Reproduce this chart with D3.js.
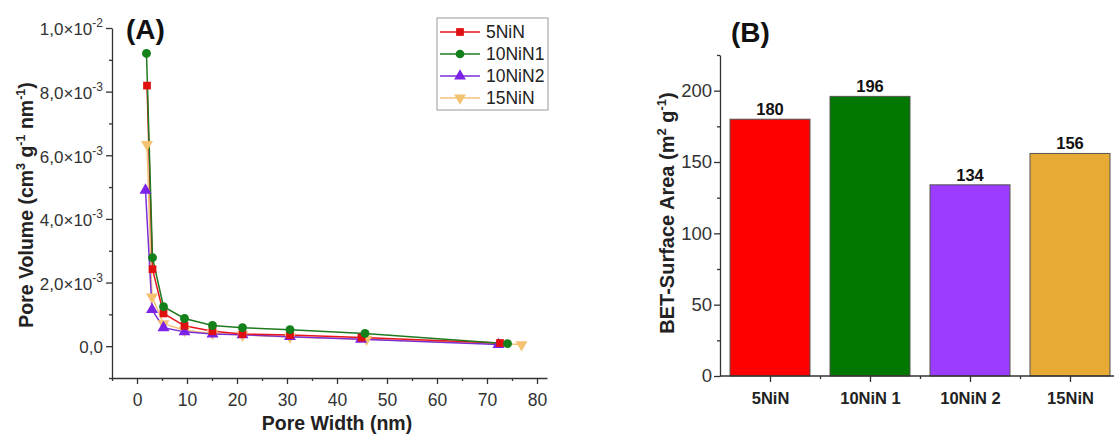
<!DOCTYPE html>
<html>
<head>
<meta charset="utf-8">
<script src="https://cdn.jsdelivr.net/npm/d3@7"></script>
<style>
  body { margin: 0; background: #fff; }
  text { font-family: "Liberation Sans", Arial, sans-serif; }
</style>
</head>
<body>
<div id="chart"></div>
<script>
// Panel A data: pore size distribution
var seriesNames = ["5NiN", "10NiN1", "10NiN2", "15NiN"];
var x5NiN    = [2.0, 3.1, 5.3, 9.5, 15.1, 21.1, 30.6, 44.9, 72.6];
var y5NiN    = [8.19e-3, 2.42e-3, 1.03e-3, 0.64e-3, 0.47e-3, 0.38e-3, 0.35e-3, 0.27e-3, 0.10e-3];
var x10NiN1  = [1.9, 3.1, 5.3, 9.5, 15.1, 21.1, 30.6, 45.6, 74.1];
var y10NiN1  = [9.20e-3, 2.78e-3, 1.24e-3, 0.87e-3, 0.65e-3, 0.58e-3, 0.52e-3, 0.40e-3, 0.08e-3];
var x10NiN2  = [1.7, 3.0, 5.3, 9.5, 15.1, 21.1, 30.6, 44.8, 72.3];
var y10NiN2  = [4.90e-3, 1.15e-3, 0.58e-3, 0.45e-3, 0.38e-3, 0.36e-3, 0.30e-3, 0.22e-3, 0.05e-3];
var x15NiN   = [2.0, 3.0, 5.3, 9.5, 15.1, 21.1, 30.6, 45.9, 76.9];
var y15NiN   = [6.34e-3, 1.55e-3, 0.71e-3, 0.50e-3, 0.40e-3, 0.35e-3, 0.29e-3, 0.22e-3, 0.05e-3];
var xTicksA  = [0, 10, 20, 30, 40, 50, 60, 70, 80];
var yTicksA  = [0, 2e-3, 4e-3, 6e-3, 8e-3, 1e-2];
var yTickLabelsA = [["0,0", ""], ["2,0×10", "-3"], ["4,0×10", "-3"], ["6,0×10", "-3"], ["8,0×10", "-3"], ["1,0×10", "-2"]];

// Panel B data: BET surface area
var samples  = ["5NiN", "10NiN 1", "10NiN 2", "15NiN"];
var betArea  = [180, 196, 134, 156];
var yTicksB  = [0, 50, 100, 150, 200];

var lineColors   = ["#e8141b", "#1f7a1f", "#7a2fd8", "#f2c27a"];
var markerColors = ["#e01010", "#13801a", "#7b22e6", "#f5c271"];
var symbols      = [d3.symbolSquare, d3.symbolCircle, d3.symbolTriangle, d3.symbolTriangle];
var barColors    = ["#ff0000", "#007800", "#9b3cff", "#e6aa35"];

var svg = d3.select("#chart").append("svg")
  .attr("width", 1114)
  .attr("height", 434);

var axisColor = "#333";

// ---------- Panel A ----------
var xA = d3.scaleLinear().domain([-5, 82]).range([112, 547]);
var yA = d3.scaleLinear().domain([-1e-3, 1e-2]).range([378, 28]);

var gA = svg.append("g");

// minor ticks
gA.append("g")
  .attr("transform", "translate(0,378)")
  .call(d3.axisBottom(xA).tickValues(d3.range(-5, 81, 5).filter(d => d % 10 !== 0)).tickSize(3).tickFormat(""))
  .call(g => g.select(".domain").remove());
gA.append("g")
  .attr("transform", "translate(112,0)")
  .call(d3.axisLeft(yA).tickValues(d3.range(-1e-3, 1.01e-2, 1e-3).filter((d, i) => i % 2 === 0)).tickSize(3).tickFormat(""))
  .call(g => g.select(".domain").remove());

var xAxisA = gA.append("g")
  .attr("transform", "translate(0,378)")
  .call(d3.axisBottom(xA).tickValues(xTicksA).tickSize(6).tickSizeOuter(0));
xAxisA.selectAll("text").attr("font-size", 17.5).attr("dy", "1.1em").attr("fill", "#333");

var yAxisA = gA.append("g")
  .attr("transform", "translate(112,0)")
  .call(d3.axisLeft(yA).tickValues(yTicksA).tickSize(6).tickSizeOuter(0).tickFormat(""));
yAxisA.selectAll(".tick").each(function (d, i) {
  var t = d3.select(this).append("text")
    .attr("x", -9).attr("dy", "0.4em")
    .attr("text-anchor", "end")
    .attr("font-size", 17)
    .attr("fill", "#333");
  t.append("tspan").text(yTickLabelsA[i][0]);
  if (yTickLabelsA[i][1]) {
    t.append("tspan").attr("dy", -8).attr("font-size", 12).text(yTickLabelsA[i][1]);
  }
});

svg.selectAll(".domain, .tick line").attr("stroke", axisColor).attr("stroke-width", 1.3);

var dataA = [
  x5NiN.map((x, i) => [x, y5NiN[i]]),
  x10NiN1.map((x, i) => [x, y10NiN1[i]]),
  x10NiN2.map((x, i) => [x, y10NiN2[i]]),
  x15NiN.map((x, i) => [x, y15NiN[i]])
];

var line = d3.line().x(d => xA(d[0])).y(d => yA(d[1]));

// draw in order so green sits on top like the original
var drawOrder = [3, 2, 0, 1];
drawOrder.forEach(function (s) {
  gA.append("path")
    .datum(dataA[s])
    .attr("d", line)
    .attr("fill", "none")
    .attr("stroke", lineColors[s])
    .attr("stroke-width", 1.5);
});
drawOrder.forEach(function (s) {
  gA.selectAll(null)
    .data(dataA[s])
    .enter()
    .append("path")
    .attr("d", d3.symbol().type(symbols[s]).size(s === 0 ? 60 : 62))
    .attr("transform", d => `translate(${xA(d[0])},${yA(d[1])})${s === 3 ? " rotate(180)" : ""}`)
    .attr("fill", markerColors[s]);
});

// Legend
var legend = gA.append("g").attr("transform", "translate(437,18)");
legend.append("rect")
  .attr("width", 111).attr("height", 92)
  .attr("fill", "#fff").attr("stroke", "#999").attr("stroke-width", 1);
seriesNames.forEach(function (name, i) {
  var ly = 14 + i * 22;
  legend.append("line")
    .attr("x1", 3).attr("x2", 43).attr("y1", ly).attr("y2", ly)
    .attr("stroke", lineColors[i]).attr("stroke-width", 1.5);
  legend.append("path")
    .attr("d", d3.symbol().type(symbols[i]).size(60))
    .attr("transform", `translate(23,${ly})${i === 3 ? " rotate(180)" : ""}`)
    .attr("fill", markerColors[i]);
  legend.append("text")
    .attr("x", 49).attr("y", ly).attr("dy", "0.36em")
    .attr("font-size", 17.5).attr("fill", "#222")
    .text(name);
});

svg.append("text")
  .attr("x", 126).attr("y", 39)
  .attr("font-size", 28).attr("font-weight", "bold").attr("fill", "#111")
  .text("(A)");

var yTitleA = svg.append("text")
  .attr("transform", "translate(33,205) rotate(-90)")
  .attr("text-anchor", "middle")
  .attr("font-size", 19.5).attr("font-weight", "bold").attr("fill", "#222");
yTitleA.append("tspan").text("Pore Volume (cm");
yTitleA.append("tspan").attr("dy", -8).attr("font-size", 12.5).text("3");
yTitleA.append("tspan").attr("dy", 8).text(" g");
yTitleA.append("tspan").attr("dy", -8).attr("font-size", 12.5).text("-1");
yTitleA.append("tspan").attr("dy", 8).text(" nm");
yTitleA.append("tspan").attr("dy", -8).attr("font-size", 12.5).text("-1");
yTitleA.append("tspan").attr("dy", 8).text(")");

svg.append("text")
  .attr("x", 337).attr("y", 430)
  .attr("text-anchor", "middle")
  .attr("font-size", 19.5).attr("font-weight", "bold").attr("fill", "#222")
  .text("Pore Width (nm)");

// ---------- Panel B ----------
var xB = d3.scaleBand().domain(samples).range([720, 1120]).paddingInner(0.2).paddingOuter(0.1);
var xBcenter = d3.scalePoint().domain(samples).range([770, 1070]);
var yB = d3.scaleLinear().domain([0, 225]).range([376, 55]);

var gB = svg.append("g");

gB.selectAll("rect.bar")
  .data(betArea)
  .enter()
  .append("rect")
  .attr("class", "bar")
  .attr("x", (d, i) => xB(samples[i]))
  .attr("y", d => yB(d))
  .attr("width", xB.bandwidth())
  .attr("height", d => yB(0) - yB(d))
  .attr("fill", (d, i) => barColors[i])
  .attr("stroke", "#555")
  .attr("stroke-width", 1);

gB.selectAll("text.val")
  .data(betArea)
  .enter()
  .append("text")
  .attr("class", "val")
  .attr("x", (d, i) => xBcenter(samples[i]))
  .attr("y", d => yB(d) - 4)
  .attr("text-anchor", "middle")
  .attr("font-size", 16.5).attr("font-weight", "bold").attr("fill", "#111")
  .text(d => d);

// minor ticks B
gB.append("g")
  .attr("transform", "translate(720,0)")
  .call(d3.axisLeft(yB).tickValues([25, 75, 125, 175, 225]).tickSize(3).tickFormat(""))
  .call(g => g.select(".domain").remove());
var minorX = d3.scaleLinear().domain([0, 4]).range([720, 1120]);
gB.append("g")
  .attr("transform", "translate(0,376)")
  .call(d3.axisBottom(minorX).tickValues([1, 2, 3]).tickSize(3).tickFormat(""))
  .call(g => g.select(".domain").remove());

var yAxisB = gB.append("g")
  .attr("transform", "translate(720,0)")
  .call(d3.axisLeft(yB).tickValues(yTicksB).tickSize(6).tickSizeOuter(0));
yAxisB.selectAll("text").attr("font-size", 18.5).attr("fill", "#333").attr("x", -8);

var xAxisB = gB.append("g")
  .attr("transform", "translate(0,376)")
  .call(d3.axisBottom(xBcenter).tickSize(6).tickSizeOuter(0));
xAxisB.select(".domain").attr("d", "M720,0H1120");
xAxisB.selectAll("text").attr("font-size", 16.5).attr("font-weight", "bold").attr("fill", "#222").attr("dy", "1.15em");

svg.selectAll(".domain, .tick line").attr("stroke", axisColor).attr("stroke-width", 1.3);

svg.append("text")
  .attr("x", 731).attr("y", 42)
  .attr("font-size", 28).attr("font-weight", "bold").attr("fill", "#111")
  .text("(B)");

var yTitleB = svg.append("text")
  .attr("transform", "translate(674,213) rotate(-90)")
  .attr("text-anchor", "middle")
  .attr("font-size", 20).attr("font-weight", "bold").attr("fill", "#222");
yTitleB.append("tspan").text("BET-Surface Area (m");
yTitleB.append("tspan").attr("dy", -8).attr("font-size", 13).text("2");
yTitleB.append("tspan").attr("dy", 8).text(" g");
yTitleB.append("tspan").attr("dy", -8).attr("font-size", 13).text("-1");
yTitleB.append("tspan").attr("dy", 8).text(")");
</script>
</body>
</html>
